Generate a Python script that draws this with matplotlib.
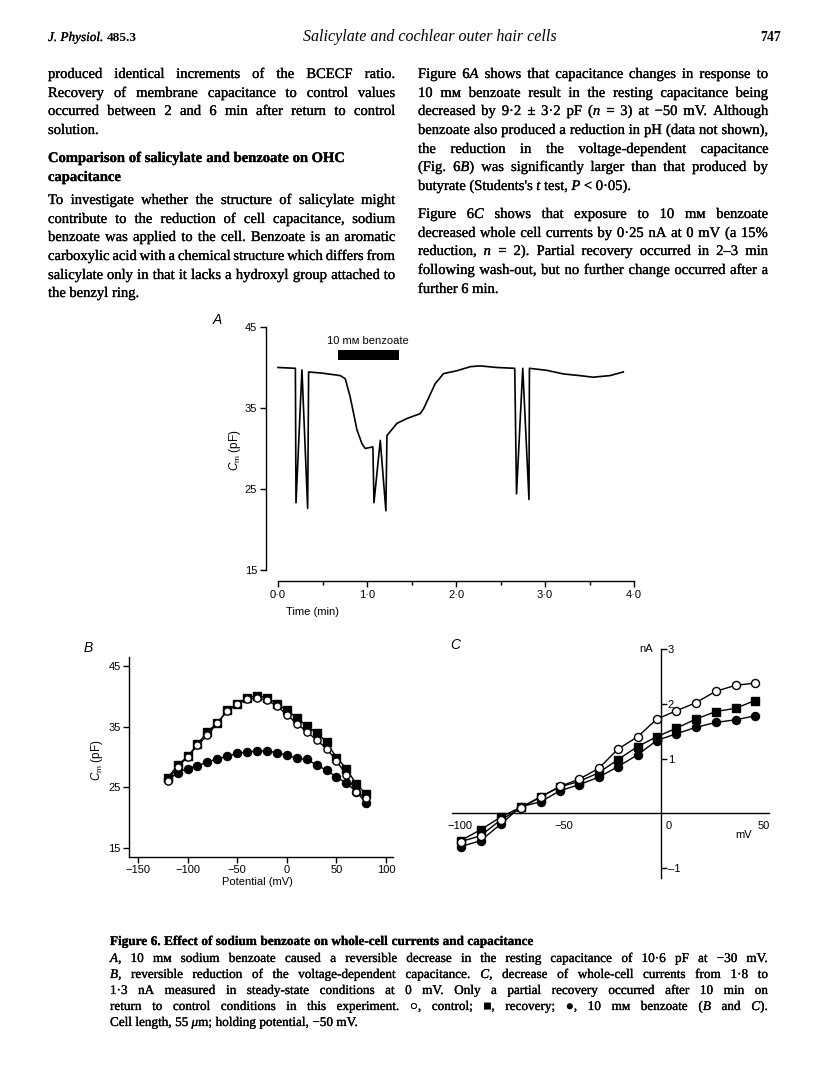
import matplotlib
matplotlib.use('Agg')
import matplotlib.pyplot as plt
from matplotlib.font_manager import FontProperties
import matplotlib.patheffects as pe

# ---------------- data ----------------
# Panel A: capacitance trace (time in min, Cm in pF)
time_a = [0.00, 0.195, 0.202, 0.269, 0.333, 0.344, 0.50, 0.70, 0.756, 0.81, 0.85, 0.887,
          0.943, 0.98, 1.066, 1.078, 1.149, 1.212, 1.224, 1.336, 1.448, 1.598, 1.635,
          1.69, 1.766, 1.86, 2.01, 2.16, 2.27, 2.46, 2.66, 2.68, 2.75, 2.82, 2.825,
          3.02, 3.21, 3.39, 3.54, 3.73, 3.88]
cm_a = [40.0, 39.9, 23.3, 39.7, 22.6, 39.45, 39.3, 39.0, 38.6, 36.4, 34.3, 32.3,
        30.6, 30.0, 30.2, 23.3, 31.0, 22.3, 31.6, 33.1, 33.7, 34.3, 34.9,
        36.2, 38.0, 39.25, 39.6, 40.1, 40.2, 40.0, 39.9, 24.4, 39.9, 23.7, 39.9,
        39.65, 39.2, 39.0, 38.8, 39.0, 39.45]
benzoate_on, benzoate_off = 0.674, 1.355
a_xticks = [0, 1, 2, 3, 4]
a_xticklabels = ['0·0', '1·0', '2·0', '3·0', '4·0']
a_yticks = [15, 25, 35, 45]

# Panel B: Cm vs potential
pot_b = [-120, -110, -100, -90, -80, -70, -60, -50, -40, -30, -20, -10,
         0, 10, 20, 30, 40, 50, 60, 70, 80]
cm_recovery = [26.6, 28.6, 30.1, 32.1, 34.2, 35.6, 37.7, 38.8, 39.8, 40.1, 39.8, 38.8,
               37.7, 36.5, 35.1, 34.0, 32.5, 29.9, 28.1, 25.5, 23.9]
cm_control = [26.1, 28.4, 30.0, 31.9, 33.6, 35.6, 37.6, 38.7, 39.6, 39.7, 39.4, 38.4,
              37.0, 35.5, 34.2, 32.8, 31.4, 29.4, 27.0, 24.3, 23.2]
cm_benzoate = [26.2, 27.4, 28.1, 28.5, 29.2, 29.7, 30.1, 30.6, 30.8, 31.0, 31.0, 30.7,
               30.3, 29.8, 29.6, 28.7, 27.8, 26.7, 25.7, 24.3, 22.4]
b_xticks = [-150, -100, -50, 0, 50, 100]
b_yticks = [15, 25, 35, 45]

# Panel C: I-V curves (mV, nA)
v_c = [-100, -90, -80, -70, -60, -50.5, -41, -31, -21.5, -11.5, -2, 7.5, 17.5, 27.5, 37.5, 47]
i_control = [-0.52, -0.41, -0.12, 0.09, 0.30, 0.49, 0.62, 0.82, 1.17, 1.40, 1.72, 1.87,
             2.02, 2.23, 2.34, 2.38]
i_recovery = [-0.50, -0.30, -0.07, 0.11, 0.30, 0.48, 0.58, 0.74, 0.98, 1.22, 1.40, 1.55,
              1.72, 1.86, 1.92, 2.06]
i_benzoate = [-0.61, -0.50, -0.20, 0.12, 0.21, 0.41, 0.52, 0.66, 0.85, 1.07, 1.33, 1.45,
              1.57, 1.66, 1.71, 1.78]
c_xticks = [-100, -50, 0, 50]
c_yticks = [-1, 1, 2, 3]

# ---------------- figure ----------------
W, H = 816, 1088
fig = plt.figure(figsize=(W / 100, H / 100), dpi=100)
fig.patch.set_facecolor('white')
plt.rcParams['mathtext.fontset'] = 'custom'
plt.rcParams['mathtext.rm'] = 'Liberation Sans'
plt.rcParams['mathtext.it'] = 'Liberation Sans:italic'
plt.rcParams['axes.linewidth'] = 1.0

SERIF = ['Liberation Serif', 'DejaVu Serif', 'DejaVu Sans']
SANS = ['Liberation Sans', 'DejaVu Sans']
renderer = fig.canvas.get_renderer()
INK = [pe.withStroke(linewidth=0.2, foreground='black')]


def fp(size, italic=False, weight='normal', family=SERIF):
    return FontProperties(family=family, size=size,
                          style='italic' if italic else 'normal', weight=weight)


def measure(s, prop):
    w, h, d = renderer.get_text_width_height_descent(s, prop, ismath=False)
    return w


def parse(word):
    segs, cur, it = [], '', False
    for ch in word:
        if ch in '{}':
            if cur:
                segs.append((cur, it))
            cur = ''
            it = (ch == '{')
        else:
            cur += ch
    if cur:
        segs.append((cur, it))
    return segs


def line_widths(text, size, weight):
    words = [parse(w) for w in text.split(' ')]
    widths = [sum(measure(s, fp(size, it, weight)) for s, it in segs) for segs in words]
    space = measure('a a', fp(size, False, weight)) - measure('aa', fp(size, False, weight))
    return words, widths, space


def draw_line(text, x0, x1, y, size, weight='normal', justify=True):
    words, widths, space = line_widths(text, size, weight)
    if justify and len(words) > 1:
        gap = (x1 - x0 - sum(widths)) / (len(words) - 1)
    else:
        gap = space
    x = x0
    for segs, w in zip(words, widths):
        xx = x
        for s, it in segs:
            p = fp(size, it, weight)
            fig.text(xx / W, 1 - y / H, s, fontproperties=p, ha='left', va='baseline',
                     path_effects=INK)
            xx += measure(s, p)
        x += w + gap


def fit_size(lines, width, size0, factor, weight='normal'):
    size = size0
    for t, j in lines:
        if not j:
            continue
        words, widths, space = line_widths(t, size0, weight)
        nat = sum(widths) + factor * space * (len(words) - 1)
        if nat > width:
            size = min(size, size0 * width / nat)
    return size


# ---------------- header ----------------
hy = 41
p1 = fp(9.5, True)
fig.text(48 / W, 1 - hy / H, 'J. Physiol.', fontproperties=p1, ha='left', va='baseline',
         path_effects=INK)
fig.text((48 + measure('J. Physiol. ', p1)) / W, 1 - hy / H, '485.3',
         fontproperties=fp(9.5, False, 'bold'), ha='left', va='baseline')
fig.text(430 / W, 1 - hy / H, 'Salicylate and cochlear outer hair cells',
         fontproperties=fp(11.5, True), ha='center', va='baseline')
fig.text(781 / W, 1 - hy / H, '747', fontproperties=fp(10, False, 'bold'),
         ha='right', va='baseline')

# ---------------- body text ----------------
left_lines = [
    ('produced identical increments of the BCECF ratio.', True),
    ('Recovery of membrane capacitance to control values', True),
    ('occurred between 2 and 6 min after return to control', True),
    ('solution.', False),
]
left_y = [78, 97, 115, 134]
head_lines = ['Comparison of salicylate and benzoate on OHC', 'capacitance']
head_y = [162, 181]
left_lines2 = [
    ('To investigate whether the structure of salicylate might', True),
    ('contribute to the reduction of cell capacitance, sodium', True),
    ('benzoate was applied to the cell. Benzoate is an aromatic', True),
    ('carboxylic acid with a chemical structure which differs from', True),
    ('salicylate only in that it lacks a hydroxyl group attached to', True),
    ('the benzyl ring.', False),
]
left_y2 = [204, 223, 241, 260, 279, 297]
right_lines = [
    ('Figure 6{A} shows that capacitance changes in response to', True),
    ('10 mᴍ benzoate result in the resting capacitance being', True),
    ('decreased by 9·2 ± 3·2 pF ({n} = 3) at −50 mV. Although', True),
    ('benzoate also produced a reduction in pH (data not shown),', True),
    ('the reduction in the voltage-dependent capacitance', True),
    ('(Fig. 6{B}) was significantly larger than that produced by', True),
    ("butyrate (Students's {t} test, {P} < 0·05).", False),
]
right_y = [78, 97, 115, 134, 153, 171, 190]
right_lines2 = [
    ('Figure 6{C} shows that exposure to 10 mᴍ benzoate', True),
    ('decreased whole cell currents by 0·25 nA at 0 mV (a 15%', True),
    ('reduction, {n} = 2). Partial recovery occurred in 2–3 min', True),
    ('following wash-out, but no further change occurred after a', True),
    ('further 6 min.', False),
]
right_y2 = [218, 237, 255, 274, 293]

LX0, LX1, RX0, RX1 = 48, 395, 418, 768
body_size = fit_size(left_lines + left_lines2 + right_lines + right_lines2, LX1 - LX0, 10.5, 0.6)
for (t, j), y in zip(left_lines + left_lines2, left_y + left_y2):
    draw_line(t, LX0, LX1, y, body_size, justify=j)
for t, y in zip(head_lines, head_y):
    draw_line(t, LX0, LX1, y, body_size, weight='bold', justify=False)
for (t, j), y in zip(right_lines + right_lines2, right_y + right_y2):
    draw_line(t, RX0, RX1, y, body_size, justify=j)

# ---------------- caption ----------------
cap_title = 'Figure 6. Effect of sodium benzoate on whole-cell currents and capacitance'
cap_lines = [
    ('{A}, 10 mᴍ sodium benzoate caused a reversible decrease in the resting capacitance of 10·6 pF at −30 mV.', True),
    ('{B}, reversible reduction of the voltage-dependent capacitance. {C}, decrease of whole-cell currents from 1·8 to', True),
    ('1·3 nA measured in steady-state conditions at 0 mV. Only a partial recovery occurred after 10 min on', True),
    ('return to control conditions in this experiment. ○, control; ■, recovery; ●, 10 mᴍ benzoate ({B} and {C}).', True),
    ('Cell length, 55 {μ}m; holding potential, −50 mV.', False),
]
cap_y = [962, 978, 994, 1010, 1026]
CX0, CX1 = 110, 768
cap_size = fit_size(cap_lines, CX1 - CX0, 9.5, 0.6)
draw_line(cap_title, CX0, CX1, 945, cap_size, weight='bold', justify=False)
for (t, j), y in zip(cap_lines, cap_y):
    draw_line(t, CX0, CX1, y, cap_size, justify=j)


# ---------------- axes helpers ----------------
def rect(l, t, r, b):
    return [l / W, 1 - b / H, (r - l) / W, (b - t) / H]


def style_ticks(ax):
    for lab in ax.get_xticklabels() + ax.get_yticklabels():
        lab.set_fontfamily(SANS)
        lab.set_fontsize(8)


# ---------------- Panel A ----------------
axA = fig.add_axes(rect(266, 327, 634, 581))
axA.set_xlim(-0.135, 4.0)
axA.set_ylim(13.64, 45)
axA.plot(time_a, cm_a, color='black', lw=1.2, clip_on=False)
axA.fill_between([benzoate_on, benzoate_off], 40.9, 42.2, color='black', lw=0)
axA.text((benzoate_on + benzoate_off) / 2, 43.3, '10 mᴍ benzoate', ha='center', va='center',
         fontfamily=SANS, fontsize=8)
for s in ['top', 'right']:
    axA.spines[s].set_visible(False)
axA.spines['left'].set_bounds(15, 45)
axA.spines['bottom'].set_bounds(0, 4)
axA.set_xticks(a_xticks)
axA.set_xticklabels(a_xticklabels)
axA.set_xticks([0.5, 1.5, 2.5, 3.5], minor=True)
axA.set_yticks(a_yticks)
axA.tick_params(direction='out', length=4.5, width=1, pad=2)
axA.tick_params(which='minor', direction='out', length=3, width=1)
style_ticks(axA)
fig.text(312 / W, 1 - 612 / H, 'Time (min)', ha='center', va='center', fontfamily=SANS, fontsize=8)
fig.text(235 / W, 1 - 450 / H, r'$C_\mathrm{m}$ (pF)', rotation=90, ha='center', va='center',
         fontfamily=SANS, fontsize=8.5)
fig.text(217 / W, 1 - 320 / H, 'A', ha='center', va='center', fontfamily=SANS, fontsize=10,
         style='italic')

# ---------------- Panel B ----------------
axB = fig.add_axes(rect(129, 657, 393, 857))
axB.set_xlim(-159, 107)
axB.set_ylim(13.5, 46.5)
axB.plot(pot_b, cm_recovery, color='black', lw=1, marker='s', ms=6, mfc='black', mec='black', zorder=3)
axB.plot(pot_b, cm_control, color='black', lw=1, marker='o', ms=5.2, mfc='white', mec='black', mew=1, zorder=4)
axB.plot(pot_b, cm_benzoate, color='black', lw=1, marker='o', ms=5.8, mfc='black', mec='black', zorder=3)
for s in ['top', 'right']:
    axB.spines[s].set_visible(False)
axB.set_xticks(b_xticks)
axB.set_xticklabels(['−150', '−100', '−50', '0', '50', '100'])
axB.set_yticks(b_yticks)
axB.tick_params(direction='out', length=4, width=1, pad=2)
style_ticks(axB)
fig.text(257 / W, 1 - 882 / H, 'Potential (mV)', ha='center', va='center', fontfamily=SANS, fontsize=8)
fig.text(97 / W, 1 - 760 / H, r'$C_\mathrm{m}$ (pF)', rotation=90, ha='center', va='center',
         fontfamily=SANS, fontsize=8.5)
fig.text(88 / W, 1 - 648 / H, 'B', ha='center', va='center', fontfamily=SANS, fontsize=10,
         style='italic')

# ---------------- Panel C ----------------
axC = fig.add_axes(rect(451.7, 649.2, 769.3, 877.8))
axC.set_xlim(-104.5, 54.3)
axC.set_ylim(-1.18, 3.0)
axC.plot(v_c, i_recovery, color='black', lw=1, marker='s', ms=5.8, mfc='black', mec='black', zorder=3, clip_on=False)
axC.plot(v_c, i_control, color='black', lw=1, marker='o', ms=5.8, mfc='white', mec='black', mew=1, zorder=4, clip_on=False)
axC.plot(v_c, i_benzoate, color='black', lw=1, marker='o', ms=5.8, mfc='black', mec='black', zorder=3, clip_on=False)
axC.spines['top'].set_visible(False)
axC.spines['left'].set_visible(False)
axC.spines['bottom'].set_position(('data', 0))
axC.spines['right'].set_position(('data', 0))
axC.yaxis.tick_right()
axC.set_yticks(c_yticks)
axC.set_yticklabels(['–1', '1', '2', '3'])
axC.tick_params(axis='y', direction='out', length=4, width=1, pad=1)
axC.set_xticks([])
style_ticks(axC)
lab_off = {-100: -0.5, -50: 1.5, 0: 4.0, 50: 1.3}
for v in c_xticks:
    axC.text(v + lab_off[v], -0.24, '−' + str(abs(v)) if v < 0 else str(v),
             ha='center', va='center', fontfamily=SANS, fontsize=8)
axC.text(41.3, -0.39, 'mV', ha='center', va='center', fontfamily=SANS, fontsize=8)
axC.text(-7.5, 3.0, 'nA', ha='center', va='center', fontfamily=SANS, fontsize=8)
fig.text(455 / W, 1 - 645 / H, 'C', ha='center', va='center', fontfamily=SANS, fontsize=10,
         style='italic')

fig.savefig('out.png', dpi=100, facecolor='white')
